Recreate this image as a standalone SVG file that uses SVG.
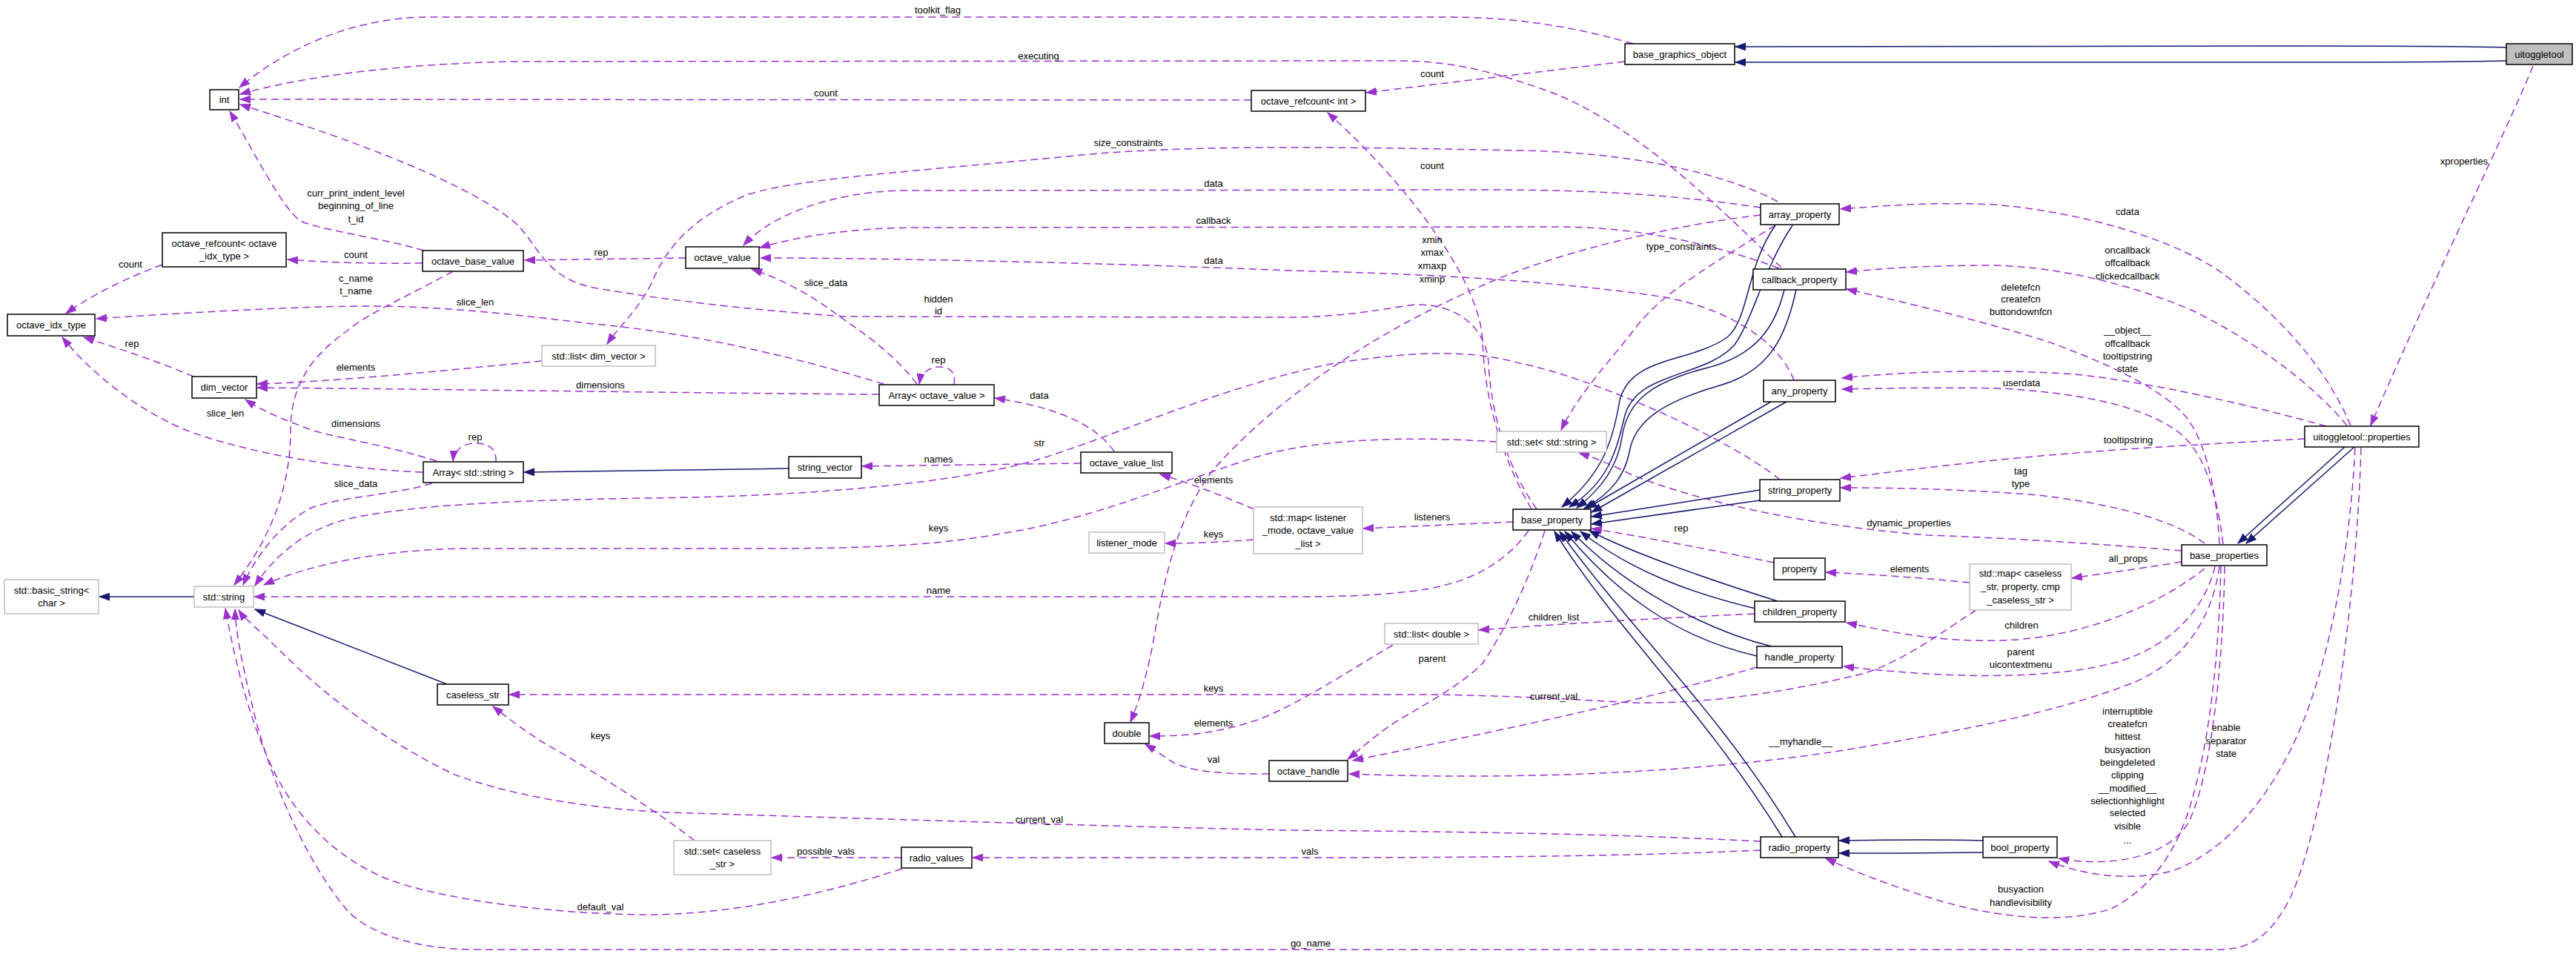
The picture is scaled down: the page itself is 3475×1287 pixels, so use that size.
<svg xmlns="http://www.w3.org/2000/svg" width="3475" height="1287" viewBox="0 0 3475 1287">
<defs>
<marker id="ap" markerUnits="userSpaceOnUse" markerWidth="16" markerHeight="11" refX="14" refY="5.5" orient="auto"><path d="M0,0.5 L14,5.5 L0,10.5 z" fill="#9a32cd" stroke="#9a32cd" stroke-width="1"/></marker>
<marker id="an" markerUnits="userSpaceOnUse" markerWidth="16" markerHeight="11" refX="14" refY="5.5" orient="auto"><path d="M0,0.5 L14,5.5 L0,10.5 z" fill="#191970" stroke="#191970" stroke-width="1"/></marker>
</defs>
<style>
text{font-family:"Liberation Sans",Arial,sans-serif;font-size:13px;fill:#000;text-anchor:middle}
.b rect{fill:#fff;stroke:#000;stroke-width:1.5}
.u rect{fill:#fff;stroke:#bfbfbf;stroke-width:1.5}
.m rect{fill:#bfbfbf;stroke:#000;stroke-width:1.5}
.e{fill:none;stroke:#9a32cd;stroke-width:1.5;stroke-dasharray:10,6;marker-end:url(#ap)}
.i{fill:none;stroke:#191970;stroke-width:1.5;marker-end:url(#an)}
</style>
<rect width="3475" height="1287" fill="#fff"/>
<g id="edges">
<path class="e" d="M2203,59 C2110,32 2030,23 1950,23 L580,23 C470,23 380,70 323,118"/>
<text x="1265" y="18">toolkit_flag</text>
<path class="e" d="M2403,361 C2330,290 2200,160 2080,120 C2000,92 1950,82 1880,82 L700,83 C560,85 420,100 324,127"/>
<text x="1401" y="80">executing</text>
<path class="e" d="M1688,135 L324,134"/>
<text x="1114" y="130">count</text>
<path class="e" d="M2192,83 L1843,125"/>
<text x="1932" y="104">count</text>
<path class="e" d="M572,338 C520,322 430,310 405,298 C380,280 340,200 310,150"/>
<text x="480" y="265">curr_print_indent_level</text>
<text x="480" y="282">beginning_of_line</text>
<text x="480" y="300">t_id</text>
<path class="e" d="M2073,687 C2020,610 2010,530 2008,490 C2005,440 1960,405 1900,412 C1850,420 1800,428 1740,428 L1140,427 C1000,417 900,405 800,388 C740,375 730,340 700,305 C640,250 480,190 324,141"/>
<text x="1266" y="408">hidden</text>
<text x="1266" y="424">id</text>
<path class="e" d="M2066,687 C2016,600 2002,520 2000,460 C1997,380 1900,250 1791,152"/>
<text x="1932" y="228">count</text>
<path class="e" d="M2398,272 C2330,235 2200,205 2050,203 C1800,198 1600,195 1450,210 C1250,230 1080,240 1010,262 C940,290 900,330 880,380 C860,420 835,440 819,464"/>
<text x="1522" y="197">size_constraints</text>
<path class="e" d="M2375,280 C2250,262 2150,256 2000,256 L1214,257 C1120,260 1040,290 1003,331"/>
<text x="1637" y="252">data</text>
<path class="e" d="M2400,362 C2300,325 2200,306 2100,306 L1231,307 C1150,308 1080,318 1025,334"/>
<text x="1637" y="302">callback</text>
<path class="e" d="M2420,513 C2400,460 2330,415 2240,400 C2100,380 1950,370 1740,365 C1500,355 1200,348 1026,348"/>
<text x="1637" y="356">data</text>
<path class="e" d="M925,348 L708,351"/>
<text x="811" y="345">rep</text>
<path class="e" d="M570,355 C500,356 440,354 388,350"/>
<text x="480" y="348">count</text>
<path class="e" d="M219,357 C170,375 120,400 89,423"/>
<text x="176" y="361">count</text>
<path class="e" d="M611,366 C560,395 500,420 470,445 C420,480 392,520 392,580 C392,650 370,720 316,789"/>
<text x="480" y="380">c_name</text>
<text x="480" y="397">t_name</text>
<path class="e" d="M1192,518 C1100,490 950,450 800,437 C700,425 600,413 500,413 C400,413 250,422 130,430"/>
<text x="641" y="412">slice_len</text>
<path class="e" d="M1237,518 C1200,470 1150,440 1130,425 C1090,395 1050,375 1014,363"/>
<text x="1114" y="386">slice_data</text>
<path class="e" d="M1287,519 C1290,500 1280,495 1266,495 C1252,495 1242,505 1240,518"/>
<text x="1266" y="490">rep</text>
<path class="e" d="M669,623 C670,605 660,598 641,598 C622,598 612,610 611,622"/>
<text x="641" y="594">rep</text>
<path class="e" d="M731,487 C600,500 450,515 347,518"/>
<text x="480" y="500">elements</text>
<path class="e" d="M1186,532 C900,530 600,525 347,523"/>
<text x="810" y="524">dimensions</text>
<path class="e" d="M589,622 C520,600 450,590 420,580 C380,565 355,555 331,539"/>
<text x="480" y="576">dimensions</text>
<path class="e" d="M261,508 C220,490 160,470 113,455"/>
<text x="178" y="468">rep</text>
<path class="e" d="M570,637 C450,632 330,610 250,580 C180,550 120,500 84,455"/>
<text x="304" y="562">slice_len</text>
<path class="e" d="M583,652 C530,668 460,670 420,685 C380,705 345,750 328,789"/>
<text x="480" y="657">slice_data</text>
<path class="i" d="M1064,632 L707,637"/>
<path class="e" d="M1458,625 L1163,629"/>
<text x="1266" y="624">names</text>
<path class="e" d="M1503,609 C1480,575 1430,550 1342,537"/>
<text x="1402" y="538">data</text>
<path class="e" d="M2401,647 C2330,590 2150,510 2050,490 C1980,470 1900,475 1800,490 C1650,520 1500,590 1400,620 C1300,650 1100,670 870,672 C700,675 560,680 470,700 C410,715 370,750 344,790"/>
<text x="1402" y="602">str</text>
<path class="e" d="M2019,596 C1900,588 1780,592 1700,615 C1600,645 1480,700 1350,720 C1250,738 1150,740 1000,740 L620,740 C520,742 420,760 356,789"/>
<text x="1266" y="717">keys</text>
<path class="e" d="M2062,716 C2030,760 1980,790 1900,798 C1850,804 1800,805 1740,805 L343,805"/>
<text x="1266" y="801">name</text>
<path class="e" d="M2041,704 L1839,713"/>
<text x="1932" y="702">listeners</text>
<path class="e" d="M1691,728 C1640,732 1600,733 1572,733"/>
<text x="1637" y="725">keys</text>
<path class="e" d="M1692,687 C1640,665 1600,650 1565,640"/>
<text x="1637" y="652">elements</text>
<path class="e" d="M3417,89 C3380,180 3290,360 3198,574"/>
<text x="3324" y="222">xproperties</text>
<path class="i" d="M3381,64 C3300,62 3200,62 3100,62 L2341,63"/>
<path class="i" d="M3381,82 C3300,84 3200,84 3100,84 L2341,84"/>
<path class="i" d="M3163,603 L3019,733"/>
<path class="i" d="M3176,603 L3030,733"/>
<path class="e" d="M2943,758 C2900,765 2850,772 2795,780"/>
<text x="2871" y="758">all_props</text>
<path class="e" d="M2657,786 C2600,780 2530,775 2463,772"/>
<text x="2576" y="772">elements</text>
<path class="e" d="M2666,823 C2630,845 2560,900 2500,912 C2400,935 2300,950 2200,948 C2100,942 2000,937 1900,937 L687,937"/>
<text x="1637" y="933">keys</text>
<path class="e" d="M2393,759 C2300,740 2220,725 2147,713"/>
<text x="2268" y="717">rep</text>
<path class="e" d="M2974,767 C2920,810 2820,860 2700,864 C2620,866 2560,855 2491,840"/>
<text x="2727" y="848">children</text>
<path class="e" d="M2988,764 C2975,820 2930,870 2860,892 C2780,915 2650,918 2487,899"/>
<text x="2726" y="884">parent</text>
<text x="2726" y="901">uicontextmenu</text>
<path class="e" d="M2994,764 C2985,830 2950,890 2880,920 C2780,960 2650,985 2500,1010 C2350,1035 2100,1055 1820,1044"/>
<text x="2429" y="1005">__myhandle__</text>
<path class="e" d="M3001,764 C2999,900 2982,1050 2952,1110 C2922,1160 2840,1170 2777,1158"/>
<text x="2870" y="964">interruptible</text>
<text x="2870" y="981">createfcn</text>
<text x="2870" y="998">hittest</text>
<text x="2870" y="1016">busyaction</text>
<text x="2870" y="1033">beingdeleted</text>
<text x="2870" y="1050">clipping</text>
<text x="2870" y="1068">__modified__</text>
<text x="2870" y="1085">selectionhighlight</text>
<text x="2870" y="1101">selected</text>
<text x="2870" y="1119">visible</text>
<text x="2870" y="1138">...</text>
<path class="e" d="M2996,764 C2993,900 2978,1000 2962,1060 C2945,1130 2915,1190 2850,1225 C2780,1250 2680,1235 2610,1213 C2550,1195 2500,1175 2463,1158"/>
<text x="2726" y="1204">busyaction</text>
<text x="2726" y="1222">handlevisibility</text>
<path class="e" d="M3177,604 C3170,750 3140,900 3100,990 C3060,1080 3000,1150 2930,1175 C2870,1190 2810,1180 2764,1162"/>
<text x="3003" y="986">enable</text>
<text x="3003" y="1004">separator</text>
<text x="3003" y="1021">state</text>
<path class="e" d="M3185,604 C3180,800 3140,1100 3090,1210 C3060,1270 3030,1281 2990,1281 L640,1281 C560,1280 500,1260 470,1230 C410,1160 360,1040 340,950 C325,890 318,850 317,822"/>
<text x="1768" y="1277">go_name</text>
<path class="e" d="M3109,592 C3000,598 2850,605 2700,620 C2620,628 2550,637 2483,645"/>
<text x="2871" y="598">tooltipstring</text>
<path class="e" d="M2974,733 C2930,700 2850,680 2750,668 C2650,660 2560,658 2483,658"/>
<text x="2726" y="640">tag</text>
<text x="2726" y="657">type</text>
<path class="e" d="M2943,743 C2850,735 2700,725 2600,722 C2450,710 2300,680 2200,640 C2170,625 2150,617 2130,611"/>
<text x="2575" y="710">dynamic_properties</text>
<path class="e" d="M2999,734 C2990,660 2970,600 2930,577 C2880,545 2800,530 2700,524 C2600,522 2550,524 2485,525"/>
<text x="2727" y="521">userdata</text>
<path class="e" d="M3138,575 C3050,550 2900,515 2800,505 C2700,498 2580,500 2485,510"/>
<text x="2870" y="450">__object__</text>
<text x="2870" y="468">offcallback</text>
<text x="2870" y="485">tooltipstring</text>
<text x="2870" y="502">state</text>
<path class="e" d="M2994,734 C2990,660 2975,590 2945,558 C2910,520 2830,485 2760,460 C2680,435 2580,410 2491,390"/>
<text x="2726" y="392">deletefcn</text>
<text x="2726" y="408">createfcn</text>
<text x="2726" y="425">buttondownfcn</text>
<path class="e" d="M3166,574 C3130,530 3060,470 2960,420 C2880,385 2780,360 2690,358 C2600,358 2540,362 2491,367"/>
<text x="2870" y="342">oncallback</text>
<text x="2870" y="359">offcallback</text>
<text x="2870" y="377">clickedcallback</text>
<path class="e" d="M3171,574 C3140,500 3080,430 3000,370 C2930,320 2800,285 2690,276 C2600,272 2540,278 2483,282"/>
<text x="2870" y="290">cdata</text>
<path class="e" d="M2395,304 C2320,350 2250,390 2212,435 C2170,490 2130,530 2106,580"/>
<text x="2268" y="337">type_constraints</text>
<path class="e" d="M2375,290 C2250,305 2100,340 2000,385 C1850,450 1720,540 1640,630 C1590,690 1570,780 1555,870 C1545,920 1535,950 1525,974"/>
<text x="1932" y="328">xmin</text>
<text x="1932" y="345">xmax</text>
<text x="1932" y="363">xmaxp</text>
<text x="1932" y="381">xminp</text>
<path class="e" d="M2084,716 C2060,790 2030,850 2000,895 C1960,935 1890,965 1860,990 C1840,1005 1830,1015 1818,1024"/>
<text x="1932" y="893">parent</text>
<path class="e" d="M2370,900 C2200,950 2000,990 1825,1026"/>
<text x="2096" y="944">current_val</text>
<path class="e" d="M2367,828 C2200,836 2100,842 1995,850"/>
<text x="2096" y="837">children_list</text>
<path class="e" d="M1879,870 C1820,905 1760,945 1700,970 C1640,990 1600,993 1551,993"/>
<text x="1637" y="980">elements</text>
<path class="e" d="M1712,1044 C1650,1045 1600,1040 1580,1027 C1565,1017 1555,1010 1545,1004"/>
<text x="1637" y="1029">val</text>
<path class="e" d="M2375,1135 C2200,1126 2000,1122 1740,1120 C1500,1115 1200,1105 900,1096 C780,1090 680,1070 611,1044 C520,1000 440,940 380,880 C350,850 330,835 322,823"/>
<text x="1402" y="1110">current_val</text>
<path class="e" d="M2375,1147 C2200,1155 2000,1157 1740,1157 L1312,1157"/>
<text x="1767" y="1153">vals</text>
<path class="e" d="M1216,1157 L1041,1157"/>
<text x="1114" y="1153">possible_vals</text>
<path class="e" d="M937,1134 C880,1090 800,1040 730,1000 C700,980 680,965 665,953"/>
<text x="810" y="997">keys</text>
<path class="e" d="M1217,1172 C1100,1210 980,1234 870,1234 C750,1233 600,1215 520,1185 C440,1150 390,1090 360,1020 C330,950 315,880 304,821"/>
<text x="810" y="1228">default_val</text>
<path class="i" d="M603,923 L344,822"/>
<path class="i" d="M262,805 L134,805"/>
<path class="i" d="M2395,304 C2355,360 2360,430 2330,455 C2280,490 2200,480 2185,540 C2175,600 2160,640 2107,684"/>
<path class="i" d="M2418,304 C2380,360 2365,430 2340,465 C2300,510 2210,500 2192,560 C2180,610 2170,650 2117,684"/>
<path class="i" d="M2407,391 C2395,440 2370,480 2300,497 C2230,515 2195,540 2188,590 C2182,630 2160,660 2127,685"/>
<path class="i" d="M2423,391 C2410,450 2390,500 2320,520 C2250,540 2205,565 2198,610 C2192,640 2175,665 2137,686"/>
<path class="i" d="M2389,542 L2140,686"/>
<path class="i" d="M2410,542 L2147,691"/>
<path class="i" d="M2374,661 L2147,697"/>
<path class="i" d="M2374,675 L2147,707"/>
<path class="i" d="M2398,811 C2300,780 2200,745 2144,716"/>
<path class="i" d="M2368,821 C2280,800 2200,770 2132,717"/>
<path class="i" d="M2390,872 C2300,850 2190,790 2120,717"/>
<path class="i" d="M2370,885 C2260,860 2180,800 2111,717"/>
<path class="i" d="M2404,1129 C2300,960 2180,850 2097,717"/>
<path class="i" d="M2422,1129 C2320,960 2200,850 2104,717"/>
<path class="i" d="M2675,1134 C2600,1132 2550,1133 2481,1134"/>
<path class="i" d="M2675,1150 C2600,1151 2550,1151 2481,1151"/>
</g>
<g id="nodes">
<g id="n_uitoggletool" class="m"><rect x="3381" y="59" width="89" height="28"/><text x="3425.5" y="78">uitoggletool</text></g>
<g id="n_base_graphics_object" class="b"><rect x="2192" y="59" width="148" height="28"/><text x="2266" y="78">base_graphics_object</text></g>
<g id="n_int" class="b"><rect x="283" y="121" width="39" height="27"/><text x="302.5" y="139">int</text></g>
<g id="n_refcount_int" class="b"><rect x="1688" y="122" width="154" height="28"/><text x="1765" y="141">octave_refcount&lt; int &gt;</text></g>
<g id="n_refcount_idx" class="b"><rect x="219" y="314" width="167" height="46"/><text x="302.5" y="333">octave_refcount&lt; octave</text><text x="302.5" y="350">_idx_type &gt;</text></g>
<g id="n_octave_base_value" class="b"><rect x="570" y="338" width="136" height="28"/><text x="638" y="357">octave_base_value</text></g>
<g id="n_octave_value" class="b"><rect x="925" y="333" width="99" height="29"/><text x="974.5" y="352">octave_value</text></g>
<g id="n_octave_idx_type" class="b"><rect x="10" y="424" width="118" height="29"/><text x="69" y="443">octave_idx_type</text></g>
<g id="n_list_dim_vector" class="u"><rect x="731" y="466" width="153" height="28"/><text x="807.5" y="485">std::list&lt; dim_vector &gt;</text></g>
<g id="n_dim_vector" class="b"><rect x="259" y="508" width="87" height="29"/><text x="302.5" y="527">dim_vector</text></g>
<g id="n_array_octave_value" class="b"><rect x="1186" y="519" width="155" height="28"/><text x="1263.5" y="538">Array&lt; octave_value &gt;</text></g>
<g id="n_array_string" class="b"><rect x="571" y="623" width="135" height="28"/><text x="638.5" y="642">Array&lt; std::string &gt;</text></g>
<g id="n_string_vector" class="b"><rect x="1064" y="616" width="98" height="29"/><text x="1113" y="635">string_vector</text></g>
<g id="n_octave_value_list" class="b"><rect x="1458" y="610" width="123" height="28"/><text x="1519.5" y="629">octave_value_list</text></g>
<g id="n_listener_mode" class="u"><rect x="1469" y="718" width="102" height="28"/><text x="1520" y="737">listener_mode</text></g>
<g id="n_map_listener" class="u"><rect x="1691" y="684" width="147" height="63"/><text x="1764.5" y="703">std::map&lt; listener</text><text x="1764.5" y="720">_mode, octave_value</text><text x="1764.5" y="738">_list &gt;</text></g>
<g id="n_basic_string" class="u"><rect x="6" y="782" width="127" height="46"/><text x="69.5" y="801">std::basic_string&lt;</text><text x="69.5" y="818">char &gt;</text></g>
<g id="n_std_string" class="u"><rect x="262" y="791" width="80" height="28"/><text x="302" y="810">std::string</text></g>
<g id="n_caseless_str" class="b"><rect x="590" y="923" width="96" height="28"/><text x="638" y="942">caseless_str</text></g>
<g id="n_set_caseless" class="u"><rect x="909" y="1134" width="131" height="46"/><text x="974.5" y="1153">std::set&lt; caseless</text><text x="974.5" y="1170">_str &gt;</text></g>
<g id="n_radio_values" class="b"><rect x="1216" y="1143" width="95" height="28"/><text x="1263.5" y="1162">radio_values</text></g>
<g id="n_double" class="b"><rect x="1490" y="975" width="60" height="28"/><text x="1520" y="994">double</text></g>
<g id="n_octave_handle" class="b"><rect x="1712" y="1026" width="106" height="28"/><text x="1765" y="1045">octave_handle</text></g>
<g id="n_list_double" class="u"><rect x="1868" y="841" width="126" height="28"/><text x="1931" y="860">std::list&lt; double &gt;</text></g>
<g id="n_base_property" class="b"><rect x="2041" y="687" width="105" height="28"/><text x="2093.5" y="706">base_property</text></g>
<g id="n_set_string" class="u"><rect x="2019" y="582" width="148" height="28"/><text x="2093" y="601">std::set&lt; std::string &gt;</text></g>
<g id="n_array_property" class="b"><rect x="2375" y="275" width="106" height="28"/><text x="2428" y="294">array_property</text></g>
<g id="n_callback_property" class="b"><rect x="2365" y="363" width="125" height="28"/><text x="2427.5" y="382">callback_property</text></g>
<g id="n_any_property" class="b"><rect x="2379" y="513" width="97" height="29"/><text x="2427.5" y="532">any_property</text></g>
<g id="n_string_property" class="b"><rect x="2374" y="647" width="108" height="29"/><text x="2428" y="666">string_property</text></g>
<g id="n_property" class="b"><rect x="2393" y="753" width="69" height="29"/><text x="2427.5" y="772">property</text></g>
<g id="n_children_property" class="b"><rect x="2367" y="811" width="122" height="28"/><text x="2428" y="830">children_property</text></g>
<g id="n_handle_property" class="b"><rect x="2370" y="872" width="115" height="29"/><text x="2427.5" y="891">handle_property</text></g>
<g id="n_radio_property" class="b"><rect x="2375" y="1129" width="105" height="28"/><text x="2427.5" y="1148">radio_property</text></g>
<g id="n_bool_property" class="b"><rect x="2675" y="1129" width="100" height="28"/><text x="2725" y="1148">bool_property</text></g>
<g id="n_map_caseless" class="u"><rect x="2657" y="761" width="137" height="62"/><text x="2725.5" y="778">std::map&lt; caseless</text><text x="2725.5" y="796">_str, property, cmp</text><text x="2725.5" y="814">_caseless_str &gt;</text></g>
<g id="n_base_properties" class="b"><rect x="2943" y="735" width="115" height="28"/><text x="3000.5" y="754">base_properties</text></g>
<g id="n_uitoggletool_properties" class="b"><rect x="3109" y="575" width="154" height="28"/><text x="3186" y="594">uitoggletool::properties</text></g>
</g>
</svg>
